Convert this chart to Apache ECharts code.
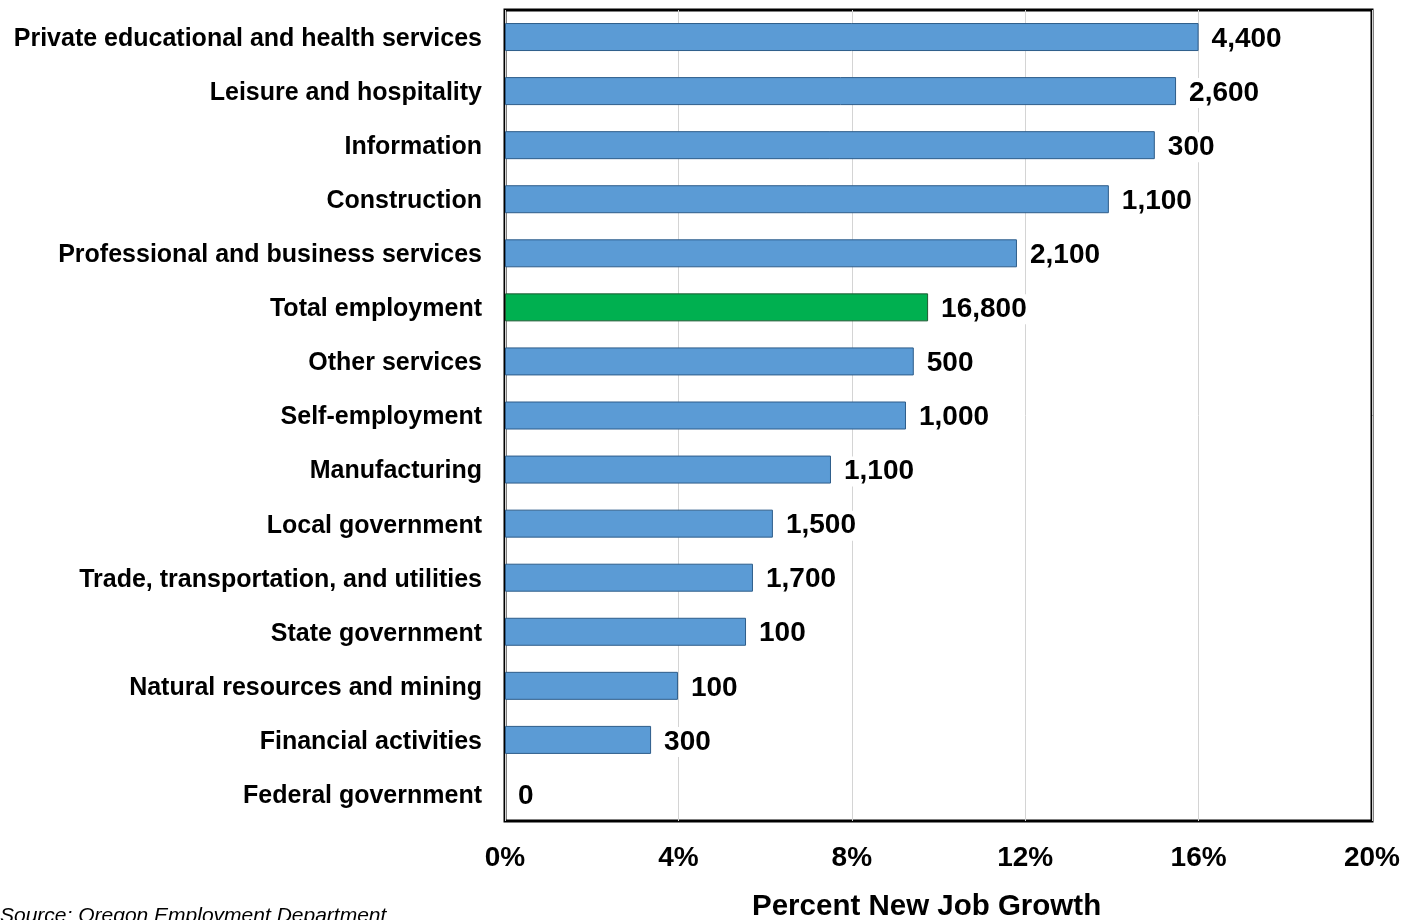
<!DOCTYPE html>
<html>
<head>
<meta charset="utf-8">
<script src="https://cdn.jsdelivr.net/npm/echarts@6/dist/echarts.min.js"></script>
<style>html,body{margin:0;padding:0;background:#fff;}#c{width:1406px;height:920px;}</style>
</head>
<body>
<div id="c"></div>
<script>
const categories = [
  "Private educational and health services",
  "Leisure and hospitality",
  "Information",
  "Construction",
  "Professional and business services",
  "Total employment",
  "Other services",
  "Self-employment",
  "Manufacturing",
  "Local government",
  "Trade, transportation, and utilities",
  "State government",
  "Natural resources and mining",
  "Financial activities",
  "Federal government"
];
const percentGrowth = [16.0, 15.48, 14.99, 13.93, 11.81, 9.76, 9.43, 9.25, 7.52, 6.18, 5.72, 5.56, 3.99, 3.37, 0];
const jobLabels = ["4,400","2,600","300","1,100","2,100","16,800","500","1,000","1,100","1,500","1,700","100","100","300","0"];
const xTicks = [0, 4, 8, 12, 16, 20];
const highlight = "Total employment";

const FONT = '"Liberation Sans", Arial, sans-serif';
const chart = echarts.init(document.getElementById('c'));
const data = categories.map((c, i) => {
  const d = {value: percentGrowth[i], label: {formatter: jobLabels[i]}};
  if (c === highlight) d.itemStyle = {color: '#00b050', borderColor: '#1e5a32'};
  if (percentGrowth[i] === 0) d.itemStyle = {borderWidth: 0};
  return d;
});
chart.setOption({
  animation: false,
  grid: {left: 505, right: 34, top: 10, bottom: 99, show: true, borderColor: '#000', borderWidth: 3, containLabel: false},
  xAxis: {
    type: 'value', min: xTicks[0], max: xTicks[xTicks.length-1], interval: 4,
    axisLine: {show: false}, axisTick: {show: false},
    splitLine: {show: true, lineStyle: {color: '#d4d4d4', width: 1}},
    axisLabel: {formatter: v => v + '%', fontFamily: FONT, fontWeight: 'bold', fontSize: 28, color: '#000', margin: 23}
  },
  yAxis: {
    type: 'category', data: categories, inverse: true,
    axisLine: {show: false}, axisTick: {show: false},
    axisLabel: {
      formatter: v => '{a|' + v + '}',
      margin: 23,
      rich: {a: {fontFamily: FONT, fontWeight: 'bold', fontSize: 25, color: '#000', padding: [4, 0, 0, 0]}}
    }
  },
  series: [{
    type: 'bar', data: data, barWidth: 28,
    itemStyle: {color: '#5b9bd5', borderColor: '#2e5d8a', borderWidth: 1},
    label: {show: true, position: 'right', distance: 11, offset: [0, 2], fontFamily: FONT, fontWeight: 'bold', fontSize: 28, color: '#000', backgroundColor: '#fff', padding: [1, 2]}
  }],
  graphic: [
    {type: 'text', left: 752, top: 892, style: {text: 'Percent New Job Growth', font: 'bold 29.5px "Liberation Sans", Arial, sans-serif', fill: '#000'}},
    {type: 'text', left: 0, top: 906, style: {text: 'Source: Oregon Employment Department', font: 'italic 21px "Liberation Sans", Arial, sans-serif', fill: '#000'}}
  ]
});
</script>
</body>
</html>
